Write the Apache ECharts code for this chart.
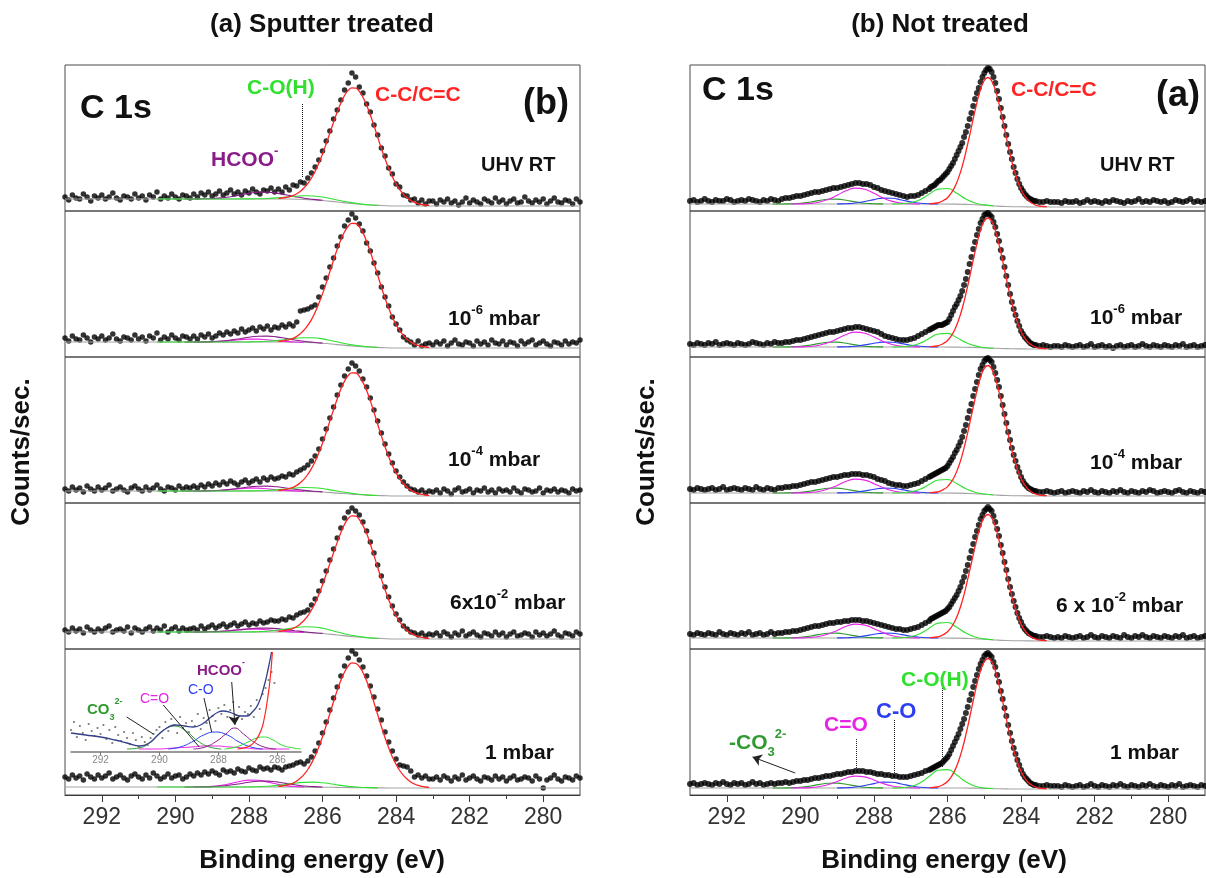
<!DOCTYPE html>
<html><head><meta charset="utf-8">
<script src="https://cdn.jsdelivr.net/npm/echarts@6/dist/echarts.min.js"></script>
<style>html,body{margin:0;padding:0;background:#fff}#c{width:1206px;height:878px}</style>
</head><body><div id="c"></div>
<script>
// ---------------- axis ticks ----------------
const X_MIN = 279, X_MAX = 293;
const xMajorTicks = [280, 282, 284, 286, 288, 290, 292];
const xMinorTicks = [281, 283, 285, 287, 289, 291];
const insetTicks = [286, 288, 290, 292];
const DOT_START = 293, DOT_STEP = 0.1;   // measured points: 293.0 -> 279.0 eV

// ---------------- LEFT panel: sputter treated ----------------
const L_fitX = [287.2,287.1,287.0,286.9,286.8,286.7,286.6,286.5,286.4,286.3,286.2,286.1,286.0,285.9,285.8,285.7,285.6,285.5,285.4,285.3,285.2,285.1,285.0,284.9,284.8,284.7,284.6,284.5,284.4,284.3,284.2,284.1,284.0,283.9,283.8,283.7,283.6,283.5,283.4,283.3,283.2,283.1];
const L_bgX = [293,287,286.5,286,285.6,285.2,284.8,284.4,284,283,279];
const L_greenX = [290.5,289,288,287.75,287.5,287.25,287,286.75,286.5,286.25,286,285.75,285.5,285.25,285,284.75,284.5];
const L_purpleX = [289.75,289.5,289.25,289,288.75,288.5,288.25,288,287.75,287.5,287.25,287,286.75,286.5,286.25,286];
const L_magentaX = [289.5,289.25,289,288.75,288.5,288.25,288,287.75,287.5,287.25,287,286.75,286.5];

const L1_dots = [14,11,16,13,12,17,14,10,15,13,16,12,14,18,13,11,15,14,12,17,13,15,11,16,14,19,12,15,13,17,14,12,16,15,13,
 17,14,18,16,19,15,17,20,16,18,21,17,19,16,20,18,22,19,17,21,20,23,19,
 22,19,24,21,26,25,29,28,33,38,44,51,60,70,80,92,101,111,121,128,138,134,124,118,107,99,86,76,63,55,43,37,27,24,16,15,11,12,8,11,7,10,
 10,7,11,9,12,8,10,6,9,13,8,11,9,7,12,10,8,13,9,11,7,10,12,8,9,14,10,8,11,9,12,7,10,13,9,8,11,10,7,12,9];
const L1_red = [12.6,13.0,13.5,14.3,15.5,17.3,19.8,23.2,27.5,33.0,39.8,47.9,57.1,67.2,77.9,88.6,98.9,108,115.5,120.7,123.2,122.9,119.7,113.8,105.7,96,85.2,73.9,62.7,52.1,42.6,34.2,27.1,21.3,16.8,13.3,10.6,8.7,7.4,6.5,6,5.6];
const L1_bg = [12,12,11.5,10.5,9,7.5,6.3,5.5,5,5,5];
const L1_green = [12,12,12.1,12.2,12.5,13.1,14,14.8,15.3,15,14,12.2,10.3,8.6,7.3,6.2,5.6];
const L1_purple = [12,12,12.2,12.5,13.1,14.3,15.9,17.6,18.8,18.9,17.9,16.2,14.4,12.8,11.6,10.7];

const L2_dots = [19,16,21,18,17,22,19,15,20,18,21,17,19,23,18,16,20,19,17,22,18,20,16,21,19,24,17,20,18,22,19,17,21,20,18,
 21,18,22,20,23,19,21,24,22,25,23,26,24,28,25,27,29,26,30,28,31,27,30,
 29,32,30,33,31,35,46,47,48,50,52,60,70,79,90,99,111,120,131,137,143,139,133,126,114,106,94,84,70,60,51,40,33,27,20,17,15,12,16,11,13,14,
 12,15,13,16,11,14,17,13,12,15,14,11,16,13,15,12,17,14,13,16,12,15,14,11,16,13,15,17,12,14,16,13,11,15,14,12,16,13,15,14,17];
const L2_red = [15.6,16,16.6,17.5,18.7,20.6,23.4,27,31.6,37.4,44.7,53.4,63.1,73.9,85.3,96.8,107.7,117.2,125.2,130.7,133.7,133.5,130.2,124.1,115.5,105.2,93.8,81.9,70,58.8,48.8,39.8,32.4,26.3,21.5,17.8,14.9,12.9,11.6,10.6,10,9.6];
const L2_bg = [15,15,14.6,13.7,12.4,11.1,10.1,9.4,9,9,9];
const L2_green = [15,15,15.1,15.3,15.7,16.4,17.5,18.6,19.3,19.2,18.1,16.3,14.3,12.4,11.1,10.2,9.6];
const L2_purple = [15,15,15.1,15.4,16,17,18.3,19.8,20.8,20.9,20.1,18.6,17,15.7,14.7,13.9];
const L2_magenta = [15,15.1,15.3,15.7,16.5,17.3,17.9,17.9,17.2,16.3,15.6,15,14.7];

const L3_dots = [14,12,16,13,15,11,17,14,12,16,13,15,18,12,14,16,13,11,15,17,14,12,16,13,15,18,14,12,16,15,13,17,14,16,15,
 17,15,18,16,19,17,20,18,21,19,22,20,18,21,23,20,22,24,21,25,23,26,24,
 25,27,26,29,28,31,33,35,38,42,47,54,64,74,85,96,108,118,127,134,140,137,132,124,116,105,93,82,70,59,49,40,32,26,21,17,14,13,11,13,10,12,
 11,13,10,14,12,9,13,15,11,12,14,10,13,12,15,11,13,10,14,12,13,11,15,12,10,14,13,11,12,15,10,13,12,14,11,13,12,10,14,12,13];
const L3_red = [12.6,13,13.6,14.5,15.7,17.6,20.4,23.9,28.5,34.4,41.5,50.2,59.8,70.5,81.9,93.3,104,114,121.9,127.5,130.2,130,126.7,120.6,112.5,102.1,90.7,78.8,67.1,56.1,46.2,37.4,30.1,24.1,19.3,15.7,12.9,10.9,9.6,8.6,8,7.6];
const L3_bg = [12,12,11.7,11,9.9,8.8,7.9,7.4,7,7,7];
const L3_green = [12,12,12.1,12.2,12.5,13.1,14,14.9,15.5,15.3,14.5,12.9,11.3,9.9,8.8,7.9,7.5];
const L3_purple = [12,12,12.1,12.3,12.8,13.6,14.8,16,16.8,16.9,16.2,15,13.7,12.6,11.7,11.1];
const L3_magenta = [12,12.1,12.3,12.7,13.5,14.3,14.9,14.9,14.2,13.3,12.6,12.1,11.8];

const L4_dots = [19,17,21,18,20,16,22,19,17,20,18,21,23,17,19,20,18,22,16,21,19,17,20,22,18,21,19,23,17,20,22,18,21,19,20,
 21,19,23,20,22,24,21,23,25,22,24,26,23,25,27,24,26,25,28,26,27,29,28,
 28,30,29,32,31,34,36,37,39,44,50,58,68,78,89,100,111,121,131,137,141,138,134,127,118,107,96,84,73,62,52,43,35,29,23,20,17,16,14,16,13,15,
 14,16,13,17,15,12,16,14,18,13,15,17,14,12,16,15,13,17,14,16,12,15,17,13,14,16,15,12,17,14,16,13,15,18,14,12,16,15,13,17,15];
const L4_red = [17.6,18,18.6,19.4,20.7,22.5,25.2,28.7,33.2,39,45.8,54.5,64.1,74.6,85.4,96.2,106.6,116.6,124.7,130.5,133.1,132.8,129.5,123.4,115.4,104.9,93.6,81.6,70.1,59.1,49.3,40.4,33.2,27.1,22.4,18.6,15.9,14,12.6,11.6,11,10.6];
const L4_bg = [17,17,16.5,15.5,14,12.5,11.3,10.5,10,10,10];
const L4_green = [17,17,17.1,17.3,17.8,18.7,20,21.3,22.2,22,20.8,18.5,16.2,14,12.5,11.3,10.7];
const L4_purple = [17,17,17.1,17.3,17.6,18.3,19.2,20.2,20.9,20.9,20.4,19.4,18.3,17.2,16.3,15.6];
const L4_magenta = [17,17.1,17.3,17.7,18.5,19.3,19.9,19.9,19.2,18.3,17.6,17,16.6];

const L5_dots = [18,16,20,17,19,15,21,18,16,20,17,19,22,16,18,20,17,15,19,21,18,16,20,17,22,19,16,18,21,17,19,20,16,18,21,
 19,22,20,23,21,24,22,20,25,23,24,22,26,24,23,27,25,24,28,26,27,25,28,
 27,25,28,29,30,32,33,31,34,38,44,52,62,73,85,97,108,119,129,137,144,141,135,128,119,109,98,86,75,63,53,44,36,30,29,28,24,18,20,17,19,16,
 16,18,15,19,17,14,18,16,20,15,17,19,16,14,18,17,15,19,16,18,14,17,19,15,16,18,17,14,19,16,7,15,17,20,16,14,18,17,15,19,17];
const L5_red = [8.6,9,9.6,10.6,12,14,16.9,20.6,25.5,31.6,39.1,48.1,58.3,69.5,81.3,93.2,104.6,114.7,123,128.9,132.1,131.6,128.5,122.5,114.1,103.9,92.4,80.4,68.5,57.3,47.1,38.1,30.6,24.5,19.6,15.9,13,11,9.6,8.6,8,7.6];
const L5_bg = [8,8,7.9,7.8,7.6,7.4,7.2,7.1,7,7,7];
const L5_green = [8,8,8.1,8.3,8.7,9.4,10.5,11.8,12.6,12.9,12.2,11,9.6,8.5,7.8,7.4,7.1];
const L5_purple = [8,8,8.1,8.4,9,10,11.3,12.8,13.8,13.9,13.1,11.6,10.2,9,8.4,8];
const L5_magenta = [8,8.2,8.6,9.7,11.4,13.5,14.9,14.7,13.1,11,9.4,8.5,8];

// inset of the 1 mbar spectrum (left panel)
const IN_dots = [22,30,15,26,19,12,28,21,16,24,18,27,13,22,9,25,17,11,20,14,8,19,12,5,15,10,7,14,18,22,
 25,14,30,21,33,27,19,35,24,29,20,31,26,38,23,34,29,42,36,31,44,38,47,35,42,50,37,45,33,40,38,46,35,52,43,58,64,72,80,69];
const IN_navyX = [293,292.5,292,291.5,291.1,290.66,290.35,290.05,289.75,289.47,289.15,288.85,288.55,288.25,288.0,287.84,287.55,287.25,287.04,286.85,286.65,286.45,286.3,286.2];
const IN_navy = [19,17,15,12,9,6,9,17,24,27,26,25,28,35,40,41,39,36,36,40,48,66,85,100];
const IN_redX = [287.35,287.15,286.95,286.75,286.55,286.45,286.35,286.25,286.17];
const IN_red = [3,4,6,11,22,33,50,72,100];
const IN_dkX = [291.1,290.7,290.3,289.9,289.5,289.1,288.7,288.3,287.9];
const IN_dk = [3,4,10,21,26,21,11,5,3];
const IN_magX = [290.7,290.1,289.5,288.9,288.5,288.1,287.6,287.1,286.6,286.1,285.6];
const IN_mag = [3,3,4,5,6,6,5,4,3,3,3];
const IN_blueX = [289.7,289.3,288.9,288.5,288.1,287.7,287.3,286.9,286.5];
const IN_blue = [3,5,10,17,20,17,10,5,3];
const IN_purX = [288.85,288.45,288.05,287.75,287.45,287.15,286.85,286.45,286.05];
const IN_pur = [3,5,11,18,24,18,11,5,3];
const IN_grnX = [287.8,287.4,287,286.7,286.45,286.15,285.85,285.45,285.2];
const IN_grn = [3,5,10,14,15,12,7,4,3];

// ---------------- RIGHT panel: not treated ----------------
const R_fitX = [286.5,286.4,286.3,286.2,286.1,286.0,285.9,285.8,285.7,285.6,285.5,285.4,285.3,285.2,285.1,285.0,284.9,284.8,284.7,284.6,284.5,284.4,284.3,284.2,284.1,284.0,283.9,283.8,283.7,283.6,283.5,283.4,283.3];
const R_bgX = [293,286.2,285.8,285.4,285.1,284.9,284.7,284.4,284,283.5,279];
const R_magX = [290.25,290,289.75,289.5,289.25,289,288.75,288.5,288.25,288,287.75,287.5,287.25,287,286.75];
const R_greenX = [287.5,287.25,287,286.75,286.5,286.25,286,285.75,285.5,285.25,285,284.75];
const R_blueX = [289,288.75,288.5,288.25,288,287.75,287.5,287.25,287,286.75,286.5,286.25];
const R_dkX = [290.75,290.5,290.25,290,289.75,289.5,289.25,289,288.75,288.5,288.25,288,287.75];
// extra points measured between the 0.1 eV steps on the steep part of the main peak
const R_midX = [286.45,286.35,286.25,286.15,286.05,285.95,285.85,285.75,285.65,285.55,285.45,285.35,285.25,285.15,285.05,284.95,284.85,284.75,284.65,284.55,284.45,284.35,284.25,284.15,284.05,283.95,283.85,283.75,283.65];

const R1_dots = [10,11,9,10,12,10,9,11,10,10,12,11,9,10,11,10,12,11,10,9,11,10,12,11,10,
 12,13,13,14,15,15,16,17,18,19,
 19,20,21,22,23,23,24,25,26,27,28,28,27,27,26,24,23,21,20,19,18,17,16,
 15,14,15,15,16,18,20,22,25,28,31,35,39,45,52,60,68,79,92,105,118,129,138,143,139,128,112,94,76,59,44,32,23,17,13,11,10,9,9,10,9,9,
 9,8,10,9,9,10,8,9,11,9,10,9,8,10,9,11,10,9,8,10,9,10,12,9,10,9,11,10,9,10,8,9,11,10,9,10,12,9,10,9,10];
const R1_mid = [24,26,30,33,37,42,48,56,64,74,85,98,112,123,134,141,142,134,120,103,85,67,52,38,27,20,15,12,10];
const R1_red = [7.2,7.5,8,8.9,10.7,13.3,17.8,24.1,33.1,44.7,59.1,75.3,92.4,108.4,121.8,130.5,133.5,130.2,121.1,107.4,91.1,73.6,57.1,42.5,30.7,21.5,15,10.5,7.7,5.9,5,4.5,4.3];
const R1_bg = [7,7,6.9,6.5,6,5.5,5,4.5,4.2,4,4];
const R1_mag = [7,7.1,7.5,8.8,11.4,15.7,20.4,22.9,21.8,17.7,13,9.6,7.9,7.2,7];
const R1_green = [7,7.3,8.3,11.3,16.7,21.9,22.5,17.8,11.9,8,6.1,5.2];
const R1_blue = [7.1,7.3,8,9.5,11.4,12.9,12.7,11,9.1,7.8,7.2,7];
const R1_dk = [7,7,7.2,7.7,8.8,10.4,11.7,11.9,10.7,9.1,7.8,7.3,7.1];

const R2_dots = [13,12,14,13,12,14,13,15,12,13,14,13,12,14,13,12,13,15,14,13,12,14,13,15,14,
 14,15,15,16,17,17,18,19,20,21,
 22,23,24,25,25,26,27,28,29,29,30,30,29,28,27,26,25,23,21,20,19,18,17,
 17,17,18,19,21,23,25,27,29,31,32,33,35,42,50,57,66,78,93,108,122,134,142,144,140,130,116,99,81,63,48,36,26,20,16,13,12,11,12,11,10,11,
 11,10,12,11,10,11,12,10,11,13,10,11,12,10,11,9,11,12,10,11,12,10,11,13,11,10,12,11,10,12,11,10,12,11,13,10,11,12,10,11,12];
const R2_mid = [28,30,32,32,34,38,46,53,61,72,85,100,115,128,138,143,142,135,123,107,90,72,55,42,31,23,18,14,12];
const R2_red = [10.3,10.5,11,12,13.8,16.5,21,27.5,36.7,48.5,63.1,79.7,97.1,113.5,127.1,136.1,139,135.8,126.5,112.7,96.1,78.5,61.7,46.9,34.9,25.6,19.1,14.5,11.8,10,9,8.5,8.3];
const R2_bg = [10,10,9.9,9.6,9.3,9,8.7,8.4,8.1,8,8];
const R2_mag = [10,10.1,10.5,11.7,14.2,18.2,22.5,24.9,23.8,20,15.6,12.5,10.8,10.2,10];
const R2_green = [10,10.2,11.1,13.7,18.5,23,23.6,19.4,14.4,11.1,9.5,8.8];
const R2_blue = [10.1,10.3,10.8,12.1,13.7,14.9,14.7,13.4,11.8,10.7,10.2,10];
const R2_dk = [10,10,10.2,10.7,11.8,13.4,14.7,14.9,13.7,12.1,10.8,10.3,10.1];

const R3_dots = [14,13,15,14,13,14,15,13,14,16,13,14,15,14,13,15,14,13,16,14,13,15,14,13,15,
 15,16,16,17,17,18,19,20,21,21,
 22,23,24,25,26,26,27,28,28,29,29,29,28,28,27,26,24,23,22,20,19,18,18,
 17,17,18,19,20,22,24,26,28,30,32,34,37,43,50,57,66,78,92,107,121,134,142,145,141,130,116,98,80,63,48,36,26,19,15,13,12,11,11,12,11,10,
 11,12,10,11,12,11,10,12,11,13,11,10,12,11,10,12,11,13,11,10,12,11,10,12,11,13,12,10,11,12,11,10,12,13,11,10,12,11,10,12,11];
const R3_mid = [27,29,31,33,35,40,46,53,61,72,85,99,114,128,138,144,143,136,123,107,89,71,55,42,31,22,17,14,12];
const R3_red = [10.3,10.5,11,11.9,13.7,16.4,20.9,27.3,36.3,48,62.5,79,96.1,112.4,125.8,134.6,137.5,134.2,124.9,111.2,94.6,77,60.5,45.8,33.9,24.6,18.2,13.5,10.7,8.9,8,7.5,7.3];
const R3_bg = [10,10,9.9,9.5,9,8.5,8,7.5,7.2,7,7];
const R3_mag = [10,10.1,10.5,11.5,13.9,17.6,21.7,23.9,22.9,19.3,15.3,12.3,10.8,10.2,10];
const R3_green = [10,10.2,11.1,13.7,18.5,23,23.5,19.4,14.3,10.8,9,8.2];
const R3_blue = [10.1,10.3,10.8,12.1,13.7,14.9,14.7,13.4,11.8,10.7,10.2,10];
const R3_dk = [10,10,10.2,10.7,11.8,13.4,14.7,14.9,13.7,12.1,10.8,10.3,10.1];

const R4_dots = [15,14,16,15,14,16,15,14,17,15,14,16,15,14,16,15,17,14,15,16,14,15,17,15,16,
 16,17,17,18,18,19,20,21,22,23,
 23,24,25,26,26,27,27,28,28,29,29,29,28,28,27,26,25,24,23,22,21,20,20,
 19,19,20,21,22,24,26,28,31,33,35,37,40,45,51,58,67,78,91,105,118,130,138,142,138,127,113,96,79,62,48,36,27,20,16,14,13,12,12,13,12,11,
 12,11,13,12,11,12,13,11,12,14,12,11,13,12,11,13,12,11,14,12,11,13,12,14,12,11,13,12,11,13,12,11,13,12,14,11,12,13,11,12,13];
const R4_mid = [30,32,34,36,38,42,48,54,62,72,84,98,112,124,134,140,140,133,120,104,87,70,55,42,31,23,18,15,13];
const R4_red = [11.3,11.5,12,12.9,14.6,17.2,21.5,27.8,36.5,47.9,61.9,77.9,94.5,110.2,123.3,131.7,134.5,131.3,122.4,109,93,76,59.8,45.6,34,25.1,18.6,14.3,11.6,9.9,9,8.5,8.3];
const R4_bg = [11,11,10.9,10.5,10,9.5,9,8.5,8.2,8,8];
const R4_mag = [11,11.1,11.5,12.5,14.9,18.6,22.7,24.9,23.9,20.3,16.3,13.3,11.8,11.2,11];
const R4_green = [11,11.3,12.3,15.3,20.7,25.9,26.5,21.8,15.9,12,10.1,9.2];
const R4_blue = [11.1,11.3,11.8,13.1,14.7,15.9,15.7,14.4,12.8,11.7,11.2,11];
const R4_dk = [11,11,11.2,11.7,12.8,14.4,15.7,15.9,14.7,13.1,11.8,11.3,11.1];

const R5_dots = [11,12,10,11,12,11,10,12,11,13,11,10,12,11,12,10,11,13,11,12,10,11,12,11,12,
 12,13,12,13,14,14,15,15,16,17,
 17,18,19,19,20,21,21,22,23,23,24,24,24,23,23,22,21,21,20,20,19,19,18,
 18,18,19,20,21,22,24,25,27,29,31,34,38,45,53,61,71,82,95,108,120,131,139,142,138,128,113,96,79,62,47,35,25,18,14,11,10,9,9,10,9,9,
 9,8,10,9,8,9,10,8,9,11,9,8,10,9,8,10,9,11,9,8,10,9,8,10,9,11,9,8,10,9,8,10,9,11,8,9,10,9,8,10,9];
const R5_mid = [26,28,30,32,36,41,49,57,66,76,88,101,114,126,135,141,140,133,120,104,87,70,54,41,30,21,16,12,10];
const R5_red = [7.3,7.5,8,9,10.8,13.5,18.1,24.6,33.8,45.7,60.4,77,94.4,110.8,124.4,133.4,136.5,133.3,124.1,110.3,93.7,76.1,59.4,44.7,32.8,23.6,17.1,12.5,9.8,8,7,6.5,6.3];
const R5_bg = [7,7,7,6.9,6.8,6.5,6.3,6.1,6,6,6];
const R5_mag = [7,7.1,7.4,8.3,10.3,13.6,17,18.9,18.1,15,11.5,9,7.7,7.2,7];
const R5_green = [7,7.3,8.5,12.1,18.5,24.7,25.4,20,13.1,8.8,7,6.5];
const R5_blue = [7.1,7.3,8,9.5,11.4,12.9,12.7,11,9.1,7.8,7.2,7];
const R5_dk = [7,7,7.2,7.7,8.8,10.4,11.7,11.9,10.7,9.1,7.8,7.3,7.1];

// ---------------- build chart ----------------
const FONT = "'Liberation Sans', Arial, Helvetica, sans-serif";
const C_RED = '#ff2424', C_GREEN = '#2fe02f', C_PURPLE = '#8a1c8a', C_MAG = '#e823e8',
      C_BLUE = '#2b3ef2', C_DK = '#2f9a2f', C_BG = '#a3a3a3', C_AX = '#3a3a3a';
const PANEL_LEFT = [65, 690], PANEL_W = 515, TOP0 = 65, SUB_H = 146;

const leftSpecs = [
  {dots: L1_dots, red: L1_red, bg: L1_bg, green: L1_green, purple: L1_purple, magenta: null},
  {dots: L2_dots, red: L2_red, bg: L2_bg, green: L2_green, purple: L2_purple, magenta: L2_magenta},
  {dots: L3_dots, red: L3_red, bg: L3_bg, green: L3_green, purple: L3_purple, magenta: L3_magenta},
  {dots: L4_dots, red: L4_red, bg: L4_bg, green: L4_green, purple: L4_purple, magenta: L4_magenta},
  {dots: L5_dots, red: L5_red, bg: L5_bg, green: L5_green, purple: L5_purple, magenta: L5_magenta}
];
const rightSpecs = [
  {dots: R1_dots, mid: R1_mid, red: R1_red, bg: R1_bg, mag: R1_mag, green: R1_green, blue: R1_blue, dk: R1_dk},
  {dots: R2_dots, mid: R2_mid, red: R2_red, bg: R2_bg, mag: R2_mag, green: R2_green, blue: R2_blue, dk: R2_dk},
  {dots: R3_dots, mid: R3_mid, red: R3_red, bg: R3_bg, mag: R3_mag, green: R3_green, blue: R3_blue, dk: R3_dk},
  {dots: R4_dots, mid: R4_mid, red: R4_red, bg: R4_bg, mag: R4_mag, green: R4_green, blue: R4_blue, dk: R4_dk},
  {dots: R5_dots, mid: R5_mid, red: R5_red, bg: R5_bg, mag: R5_mag, green: R5_green, blue: R5_blue, dk: R5_dk}
];

const grids = [], xAxes = [], yAxes = [], series = [];
const dotted = (x, y1, y2) => [{coord: [x, y1]}, {coord: [x, y2]}];
function markLines(items, arrow) {
  return {silent: true, animation: false, symbol: arrow ? ['none', 'arrow'] : ['none', 'none'], symbolSize: 9,
    label: {show: false}, emphasis: {disabled: true},
    lineStyle: {type: arrow ? 'solid' : 'dotted', color: '#222', width: 1}, data: items};
}
function addLine(ax, xs, ys, color, width, extra) {
  series.push(Object.assign({type: 'line', xAxisIndex: ax.x, yAxisIndex: ax.y,
    data: xs.map((x, i) => [x, ys[i]]), symbol: 'none', showSymbol: false, smooth: true, silent: true,
    lineStyle: {color: color, width: width || 1.2}, z: 3}, extra || {}));
}
function addDots(ax, ys, size, start, color) {
  series.push({type: 'scatter', xAxisIndex: ax.x, yAxisIndex: ax.y, silent: true, z: 2,
    data: ys.map((y, i) => [+(start - i * DOT_STEP).toFixed(2), y]),
    symbol: 'circle', symbolSize: size, itemStyle: {color: color || '#000'}});
}
function addDotsXY(ax, xs, ys, size) {
  series.push({type: 'scatter', xAxisIndex: ax.x, yAxisIndex: ax.y, silent: true, z: 2,
    data: xs.map((x, i) => [x, ys[i]]), symbol: 'circle', symbolSize: size, itemStyle: {color: '#000'}});
}
function makeGrid(p, k) {
  grids.push({left: PANEL_LEFT[p], top: TOP0 + k * SUB_H, width: PANEL_W, height: SUB_H,
    show: true, borderColor: '#4a4a4a', borderWidth: 1, containLabel: false});
  const g = grids.length - 1;
  const bottom = (k === 4);
  const xi = xAxes.length;
  xAxes.push({gridIndex: g, type: 'value', min: X_MIN, max: X_MAX, inverse: true, show: bottom, position: 'bottom',
    axisLine: {show: bottom, onZero: false, lineStyle: {color: C_AX, width: 1}},
    axisTick: {show: bottom, length: 7, customValues: xMajorTicks, lineStyle: {color: C_AX, width: 1}},
    axisLabel: {show: bottom, customValues: xMajorTicks, fontSize: 23, color: '#333', margin: 11, fontFamily: FONT},
    splitLine: {show: false}});
  if (bottom) {
    xAxes.push({gridIndex: g, type: 'value', min: X_MIN, max: X_MAX, inverse: true, position: 'bottom',
      axisLine: {show: false, onZero: false}, axisTick: {show: true, length: 4, customValues: xMinorTicks, lineStyle: {color: C_AX}},
      axisLabel: {show: false}, splitLine: {show: false}});
  }
  yAxes.push({gridIndex: g, type: 'value', min: 0, max: SUB_H, show: false});
  return {x: xi, y: yAxes.length - 1};
}

leftSpecs.forEach((s, k) => {
  const ax = makeGrid(0, k);
  addDots(ax, s.dots, 5.5, DOT_START);
  addLine(ax, L_bgX, s.bg, C_BG, 1.1, k === 0 ? {markLine: markLines([dotted(286.55, 34, 108)])} : {});
  if (s.magenta) addLine(ax, L_magentaX, s.magenta, C_MAG, 1.1);
  addLine(ax, L_purpleX, s.purple, C_PURPLE, 1.1);
  addLine(ax, L_greenX, s.green, C_GREEN, 1.1);
  addLine(ax, L_fitX, s.red, C_RED, 1.3);
});
rightSpecs.forEach((s, k) => {
  const ax = makeGrid(1, k);
  addDots(ax, s.dots, 6, DOT_START);
  addDotsXY(ax, R_midX, s.mid, 6);
  let extra = {};
  if (k === 4) extra = {markLine: markLines([dotted(288.48, 27, 57), dotted(287.46, 22, 75), dotted(286.15, 28, 108)])};
  addLine(ax, R_bgX, s.bg, C_BG, 1.1, extra);
  addLine(ax, R_dkX, s.dk, C_DK, 1.1);
  addLine(ax, R_blueX, s.blue, C_BLUE, 1.1);
  addLine(ax, R_magX, s.mag, C_MAG, 1.1);
  addLine(ax, R_greenX, s.green, C_GREEN, 1.1);
  addLine(ax, R_fitX, s.red, C_RED, 1.3, k === 4 ? {markLine: markLines([[{coord: [290.14, 22]}, {coord: [291.3, 38]}]], true)} : {});
});

// inset grid (left panel, 1 mbar)
grids.push({left: 71, top: 650, width: 230, height: 102, show: false});
const ig = grids.length - 1;
const inX = xAxes.length;
xAxes.push({gridIndex: ig, type: 'value', min: 285.2, max: 293, inverse: true, position: 'bottom',
  axisLine: {show: true, onZero: false, lineStyle: {color: '#777', width: 1.5}},
  axisTick: {show: true, length: 3, customValues: insetTicks, lineStyle: {color: '#777'}},
  axisLabel: {show: true, customValues: insetTicks, fontSize: 10, color: '#888', margin: 3, fontFamily: FONT},
  splitLine: {show: false}});
yAxes.push({gridIndex: ig, type: 'value', min: 0, max: 102, show: false});
const inAx = {x: inX, y: yAxes.length - 1};
addDots(inAx, IN_dots, 2.2, DOT_START, '#555');
addLine(inAx, IN_magX, IN_mag, C_MAG, 1);
addLine(inAx, IN_dkX, IN_dk, C_DK, 1);
addLine(inAx, IN_blueX, IN_blue, C_BLUE, 1);
addLine(inAx, IN_purX, IN_pur, C_PURPLE, 1);
addLine(inAx, IN_grnX, IN_grn, C_GREEN, 1);
addLine(inAx, IN_redX, IN_red, C_RED, 1.2);
addLine(inAx, IN_navyX, IN_navy, '#34408a', 1.3, {markLine: Object.assign(markLines([
  [{coord: [291.11, 35]}, {coord: [290.21, 18]}],
  [{coord: [289.87, 47]}, {coord: [288.65, 5]}],
  [{coord: [288.49, 54]}, {coord: [288.23, 20]}]
]), {lineStyle: {type: 'solid', color: '#222', width: 1}})});
addLine(inAx, [287.55, 287.44], [70, 26], 'rgba(0,0,0,0)', 0, {smooth: false,
  markLine: markLines([[{coord: [287.55, 70]}, {coord: [287.44, 27]}]], true)});

// ---------------- text ----------------
function T(x, y, text, size, color, o) {
  o = o || {};
  return {type: 'text', x: x, y: y, rotation: o.rot || 0, silent: true, z: 100,
    style: {text: text, fill: color || '#111', fontSize: size, fontWeight: o.w || 'normal', fontFamily: FONT,
      textAlign: o.a || 'left', align: o.a || 'left', textVerticalAlign: 'middle', verticalAlign: 'middle', rich: o.rich}};
}
function supRich(size, color, w) {
  const s = Math.round(size * 0.62);
  return {
    b: {fontSize: size, fontWeight: w, fontFamily: FONT, fill: color, color: color, lineHeight: size + 10, verticalAlign: 'middle'},
    s: {fontSize: s, fontWeight: w, fontFamily: FONT, fill: color, color: color, lineHeight: s, verticalAlign: 'top'},
    d: {fontSize: s, fontWeight: w, fontFamily: FONT, fill: color, color: color, lineHeight: s, verticalAlign: 'bottom'}
  };
}
const BK = '#111';
const B = {w: 'bold'};
const texts = [
  T(322, 25, '(a) Sputter treated', 26, BK, {w: 'bold', a: 'center'}),
  T(940, 25, '(b) Not treated', 26, BK, {w: 'bold', a: 'center'}),
  T(322, 861, 'Binding energy (eV)', 26, BK, {w: 'bold', a: 'center'}),
  T(944, 861, 'Binding energy (eV)', 26, BK, {w: 'bold', a: 'center'}),
  T(22, 452, 'Counts/sec.', 26, BK, {w: 'bold', a: 'center', rot: Math.PI / 2}),
  T(647, 452, 'Counts/sec.', 26, BK, {w: 'bold', a: 'center', rot: Math.PI / 2}),
  // left panel
  T(80, 109, 'C 1s', 34, BK, B),
  T(546, 104, '(b)', 36, BK, {w: 'bold', a: 'center'}),
  T(247, 88, 'C-O(H)', 21, C_GREEN, B),
  T(375, 95, 'C-C/C=C', 21, C_RED, B),
  T(211, 160, '{b|HCOO}{s|-}', 21, C_PURPLE, {rich: supRich(21, C_PURPLE, 'bold')}),
  T(481, 165, 'UHV RT', 20, BK, B),
  T(448, 319, '{b|10}{s|-6}{b| mbar}', 21, BK, {rich: supRich(21, BK, 'bold')}),
  T(448, 460, '{b|10}{s|-4}{b| mbar}', 21, BK, {rich: supRich(21, BK, 'bold')}),
  T(450, 603, '{b|6x10}{s|-2}{b| mbar}', 21, BK, {rich: supRich(21, BK, 'bold')}),
  T(485, 753, '1 mbar', 21, BK, B),
  // inset labels
  T(87, 710, '{b|CO}{d|3}{s|2-}', 15, C_DK, {rich: supRich(15, C_DK, 'bold')}),
  T(140, 699, 'C=O', 14, C_MAG),
  T(188, 690, 'C-O', 14, C_BLUE),
  T(197, 671, '{b|HCOO}{s|-}', 15, C_PURPLE, {rich: supRich(15, C_PURPLE, 'bold')}),
  // right panel
  T(702, 91, 'C 1s', 34, BK, B),
  T(1178, 96, '(a)', 36, BK, {w: 'bold', a: 'center'}),
  T(1011, 90, 'C-C/C=C', 21, C_RED, B),
  T(1100, 165, 'UHV RT', 20, BK, B),
  T(1090, 318, '{b|10}{s|-6}{b| mbar}', 21, BK, {rich: supRich(21, BK, 'bold')}),
  T(1090, 463, '{b|10}{s|-4}{b| mbar}', 21, BK, {rich: supRich(21, BK, 'bold')}),
  T(1056, 606, '{b|6 x 10}{s|-2}{b| mbar}', 21, BK, {rich: supRich(21, BK, 'bold')}),
  T(1110, 753, '1 mbar', 21, BK, B),
  T(901, 680, 'C-O(H)', 21, C_GREEN, B),
  T(876, 712, 'C-O', 22, C_BLUE, B),
  T(824, 725, 'C=O', 21, C_MAG, B),
  T(729, 743, '{b|-CO}{d|3}{s|2-}', 21, C_DK, {rich: supRich(21, C_DK, 'bold')})
];

const chart = echarts.init(document.getElementById('c'), null, {renderer: 'canvas'});
chart.setOption({
  animation: false,
  backgroundColor: '#ffffff',
  grid: grids, xAxis: xAxes, yAxis: yAxes, series: series,
  graphic: {elements: texts}
});
</script>
</body></html>
